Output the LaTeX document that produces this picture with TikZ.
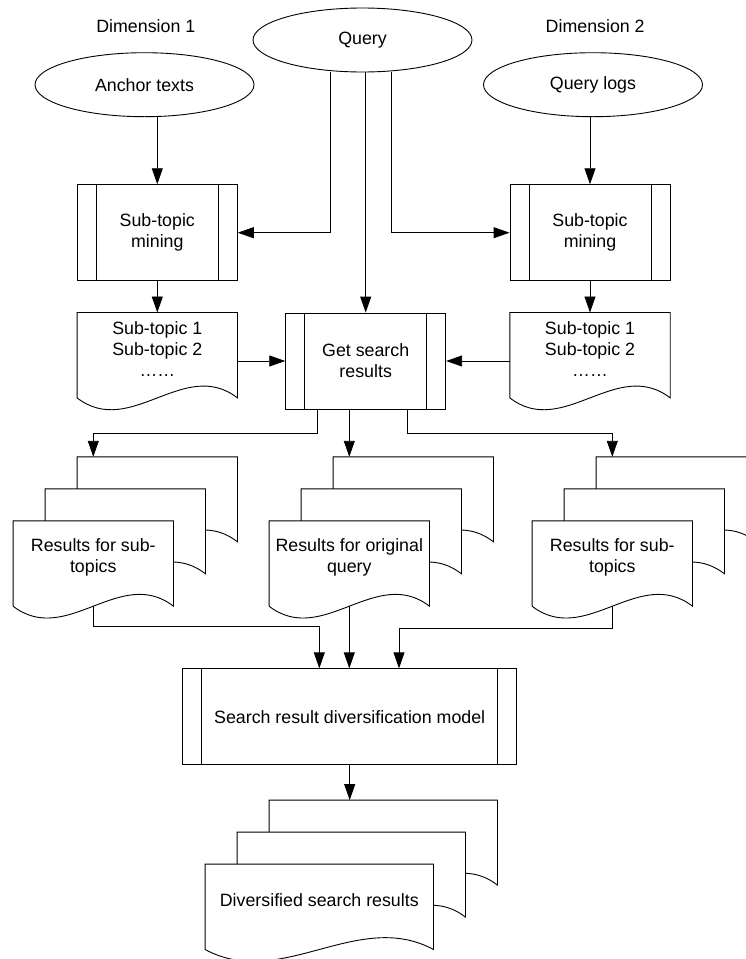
\documentclass[tikz,border=0pt]{standalone}
\usepackage{fontspec}
\setmainfont{Liberation Sans}
\usetikzlibrary{shapes.geometric,arrows.meta}

\tikzset{
  line/.style={draw=black, line width=0.9pt},
  arrow/.style={line, -{Triangle[length=16pt,width=11pt]}},
  source/.style={ellipse, line, minimum width=219, minimum height=64, inner sep=0pt},
  proc/.style={rectangle, line, minimum width=#1, minimum height=96, inner sep=0pt, align=center,
    append after command={\pgfextra{
      \draw[line] ([xshift=19.5pt]\tikzlastnode.north west) -- ([xshift=19.5pt]\tikzlastnode.south west)
                  ([xshift=-19.5pt]\tikzlastnode.north east) -- ([xshift=-19.5pt]\tikzlastnode.south east);}}},
  proc/.default=160,
  doc/.style={rectangle, minimum width=#1, minimum height=72, inner sep=0pt, align=center,
    append after command={\pgfextra{
      \draw[line] ([yshift=-13pt]\tikzlastnode.south west) -- (\tikzlastnode.north west)
        -- (\tikzlastnode.north east) -- ([yshift=-13pt]\tikzlastnode.south east)
        .. controls +(-#1/3,41) and +(#1/3,-41) .. ([yshift=-13pt]\tikzlastnode.south west);}}},
  doc/.default=160,
  docstack/.style={doc=#1,
    append after command={\pgfextra{
      \foreach \k in {1,2}
        \draw[line] ([shift={(32*\k,32*\k-32)}]\tikzlastnode.north west) -- ++(0,32)
          -| ([shift={(32*\k,32*\k-85)}]\tikzlastnode.north east)
          .. controls +(-10.7,8.2) and +(10.7,-0.3) .. ++(-32,11.8);}}},
  docstack/.default=160,
}

\begin{document}
\begin{tikzpicture}[x=1pt, y=1pt, font=\fontsize{17.8}{21}\selectfont]
  \useasboundingbox (0,0) rectangle (746,-959);

  % inputs
  \node (dim1) at (145.8,-26) {Dimension 1};
  \node (dim2) at (595.2,-26) {Dimension 2};
  \node[source] (query) at (362.5,-40) {Query};
  \node[source] (anchor) at (144.5,-84.7) {Anchor texts};
  \node[source] (logs) at (593,-84.7) {Query logs};

  % sub-topics
  \node[proc] (mine1) at (157.3,-232.7) {Sub-topic\\mining};
  \node[proc] (mine2) at (590,-232.7) {Sub-topic\\mining};
  \node[doc] (sub1) at (157.3,-348.7) {Sub-topic 1\\Sub-topic 2\\……};
  \node[doc] (sub2) at (590,-348.7) {Sub-topic 1\\Sub-topic 2\\……};
  \node[proc] (getres) at (365.7,-361) {Get search\\results};

  % results
  \node[docstack] (res1) at (93.3,-557) {Results for sub-\\topics};
  \node[docstack] (res2) at (349.3,-557) {Results for original\\query};
  \node[docstack] (res3) at (612.3,-557) {Results for sub-\\topics};
  \node[proc=334] (model) at (349.7,-716.8) {Search result diversification model};
  \node[docstack=228] (final) at (319.3,-900.3) {Diversified search results};

  \coordinate (res1top) at ([yshift=64pt]res1.north);
  \coordinate (res2top) at ([yshift=64pt]res2.north);
  \coordinate (res3top) at ([yshift=64pt]res3.north);
  \coordinate (finaltop) at ([yshift=64pt]final.north);

  \draw[arrow] (mine1.north |- anchor.south) -- (mine1.north);
  \draw[arrow] (mine2.north |- logs.south) -- (mine2.north);
  \draw[arrow] ([xshift=-32pt]query.south) |- (mine1.east);
  \draw[arrow] (getres.north |- query.south) -- (getres.north);
  \draw[arrow] ([xshift=29pt]query.south) |- (mine2.west);
  \draw[arrow] (mine1.south) -- (sub1.north);
  \draw[arrow] (mine2.south) -- (sub2.north);
  \draw[arrow] (sub1.east |- getres.west) -- (getres.west);
  \draw[arrow] (sub2.west |- getres.east) -- (getres.east);

  \draw[arrow] ([xshift=-48pt]getres.south) -- ++(0,-24) -| (res1top);
  \draw[arrow] (res2top |- getres.south) -- (res2top);
  \draw[arrow] ([xshift=41.6pt]getres.south) -- ++(0,-24) -| (res3top);

  \draw[arrow] ([yshift=-13pt]res1.south) -- ++(0,-20.7) -| ([xshift=-30.4pt]model.north);
  \draw[arrow] ([yshift=-13pt]res2.south) -- (res2.south |- model.north);
  \draw[arrow] ([yshift=-13pt]res3.south) -- ++(0,-22.7) -| ([xshift=49.3pt]model.north);
  \draw[arrow] (model.south) -- (model.south |- finaltop);
\end{tikzpicture}
\end{document}
